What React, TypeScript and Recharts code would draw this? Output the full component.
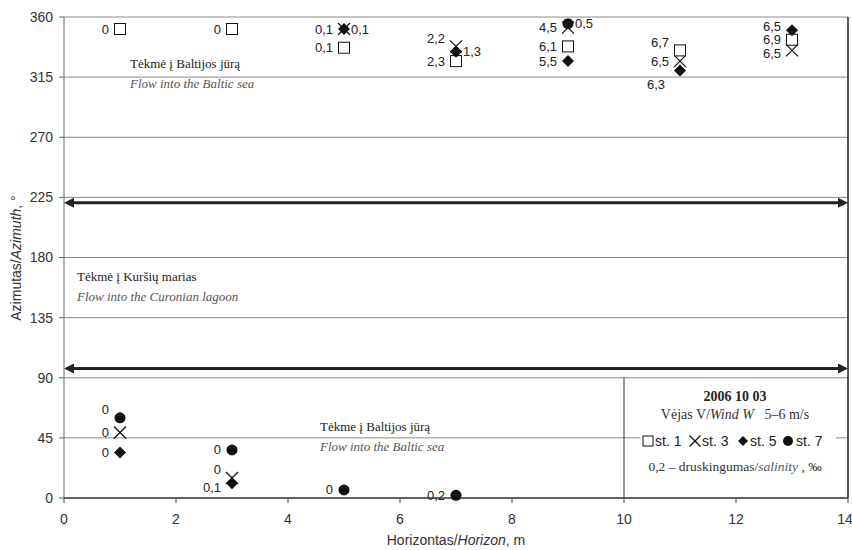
import React from 'react';
import { ScatterChart, Scatter, XAxis, YAxis, CartesianGrid, ReferenceLine } from 'recharts';

// horizon (m) / azimuth (deg) / salinity (‰) per station
const st1 = [
  { x: 1, y: 351, s: 0 },
  { x: 3, y: 351, s: 0 },
  { x: 5, y: 337, s: 0.1 },
  { x: 7, y: 327, s: 2.3 },
  { x: 9, y: 338, s: 6.1 },
  { x: 11, y: 335, s: 6.7 },
  { x: 13, y: 343, s: 6.9 },
];
const st3 = [
  { x: 1, y: 49, s: 0 },
  { x: 3, y: 15, s: 0 },
  { x: 5, y: 351, s: 0.1 },
  { x: 7, y: 338, s: 2.2 },
  { x: 9, y: 352, s: 4.5 },
  { x: 11, y: 327, s: 6.5 },
  { x: 13, y: 335, s: 6.5 },
];
const st5 = [
  { x: 1, y: 34, s: 0 },
  { x: 3, y: 11, s: 0.1 },
  { x: 5, y: 351, s: 0.1 },
  { x: 7, y: 334, s: 1.3 },
  { x: 9, y: 327, s: 5.5 },
  { x: 11, y: 320, s: 6.3 },
  { x: 13, y: 350, s: 6.5 },
];
const st7 = [
  { x: 1, y: 60, s: 0 },
  { x: 3, y: 36, s: 0 },
  { x: 5, y: 6, s: 0 },
  { x: 7, y: 2, s: 0.2 },
  { x: 9, y: 355, s: 0.5 },
];

const xTicks = [0, 2, 4, 6, 8, 10, 12, 14];
const yTicks = [0, 45, 90, 135, 180, 225, 270, 315, 360];
const flowBorders = [221, 97]; // azimuths separating the flow directions

// where the salinity number sits next to its marker (default: left)
const labelSide: Record<string, string> = {
  'st5-5': 'right',
  'st5-7': 'right',
  'st7-9': 'right',
  'st3-7': 'upLeft',
  'st7-1': 'upLeft',
  'st3-3': 'upLeft',
  'st1-11': 'upLeft',
  'st5-11': 'belowLeft',
  'st5-3': 'downLeft',
  'st5-13': 'nudgeUp',
  'st3-13': 'nudgeDown',
};

const W = 852;
const H = 550;
const PL = 64, PR = 848;

const INK = '#111';
const NUM_FONT = '"Liberation Sans", Arial, sans-serif';
const SERIF = '"Liberation Serif", "Times New Roman", serif';

const fmt = (v: number) => String(v).replace('.', ',');

const Marker = ({ kind, cx, cy, r = 5.5 }: { kind: string; cx: number; cy: number; r?: number }) => {
  if (kind === 'square')
    return <rect x={cx - r} y={cy - r} width={2 * r} height={2 * r} fill="#fff" stroke={INK} strokeWidth={1} />;
  if (kind === 'cross')
    return (
      <g stroke={INK} strokeWidth={1.2}>
        <line x1={cx - r - 0.5} y1={cy - r - 0.5} x2={cx + r + 0.5} y2={cy + r + 0.5} />
        <line x1={cx - r - 0.5} y1={cy + r + 0.5} x2={cx + r + 0.5} y2={cy - r - 0.5} />
      </g>
    );
  if (kind === 'diamond')
    return <polygon points={`${cx},${cy - r - 0.5} ${cx + r + 0.5},${cy} ${cx},${cy + r + 0.5} ${cx - r - 0.5},${cy}`} fill={INK} />;
  return <circle cx={cx} cy={cy} r={r} fill={INK} />;
};

const makeShape = (station: string, kind: string) => (props: any) => {
  const { cx, cy, payload } = props;
  const side = labelSide[`${station}-${payload.x}`] || 'left';
  let tx = cx - 11, ty = cy, anchor = 'end';
  if (side === 'right') { tx = cx + 7; anchor = 'start'; }
  if (side === 'upLeft') ty = cy - 8;
  if (side === 'downLeft') ty = cy + 4;
  if (side === 'nudgeUp') ty = cy - 4;
  if (side === 'nudgeDown') ty = cy + 3;
  if (side === 'belowLeft') { tx = cx - 15; ty = cy + 14; }
  return (
    <g>
      <Marker kind={kind} cx={cx} cy={cy} />
      <text x={tx} y={ty} textAnchor={anchor} dominantBaseline="central" fontSize={13} fontFamily={NUM_FONT} fill="#222">
        {fmt(payload.s)}
      </text>
    </g>
  );
};

const ArrowLine = (props: any) => {
  const { x1, y1, x2, y2 } = props;
  return (
    <g>
      <line x1={x1 + 6} y1={y1} x2={x2 - 6} y2={y2} stroke="#222" strokeWidth={3} />
      <polygon points={`${x1},${y1} ${x1 + 10},${y1 - 5} ${x1 + 10},${y1 + 5}`} fill="#222" />
      <polygon points={`${x2},${y2} ${x2 - 10},${y2 - 5} ${x2 - 10},${y2 + 5}`} fill="#222" />
    </g>
  );
};

const Note = ({ x, y, lt, en }: { x: number; y: number; lt: string; en: string }) => (
  <g fontFamily={SERIF} fontSize={13}>
    <text x={x} y={y} fill="#222">{lt}</text>
    <text x={x} y={y + 20} fill="#555" fontStyle="italic">{en}</text>
  </g>
);

const App: React.FC = () => {
  const lx = 735;
  return (
    <div style={{ position: 'absolute', left: 0, top: 0, width: W, height: H, background: '#fff' }}>
      <ScatterChart width={W} height={H} margin={{ top: 17, right: 4, bottom: 22, left: 10 }}>
        <CartesianGrid vertical={false} stroke="#8a8a8a" />
        <XAxis
          type="number"
          dataKey="x"
          domain={[0, 14]}
          ticks={xTicks}
          height={30}
          tickSize={5}
          tickMargin={11}
          axisLine={{ stroke: '#000' }}
          tickLine={{ stroke: '#444' }}
          tick={{ fontSize: 14, fontFamily: NUM_FONT, fill: '#333' }}
        />
        <YAxis
          type="number"
          dataKey="y"
          domain={[0, 360]}
          ticks={yTicks}
          width={54}
          tickSize={5}
          tickMargin={6}
          axisLine={{ stroke: '#666' }}
          tickLine={{ stroke: '#666' }}
          tick={{ fontSize: 14, fontFamily: NUM_FONT, fill: '#333' }}
        />
        <ReferenceLine x={14} stroke="#222" strokeWidth={1.5} />
        <ReferenceLine segment={[{ x: 10, y: 0 }, { x: 10, y: 90 }]} stroke="#333" />
        {flowBorders.map((b) => (
          <ReferenceLine key={b} y={b} shape={ArrowLine} />
        ))}
        <Scatter name="st. 1" data={st1} shape={makeShape('st1', 'square')} isAnimationActive={false} />
        <Scatter name="st. 3" data={st3} shape={makeShape('st3', 'cross')} isAnimationActive={false} />
        <Scatter name="st. 5" data={st5} shape={makeShape('st5', 'diamond')} isAnimationActive={false} />
        <Scatter name="st. 7" data={st7} shape={makeShape('st7', 'circle')} isAnimationActive={false} />
      </ScatterChart>
      <svg width={W} height={H} style={{ position: 'absolute', left: 0, top: 0, pointerEvents: 'none' }}>
        <Note x={130} y={68} lt="Tėkmė į Baltijos jūrą" en="Flow into the Baltic sea" />
        <Note x={77} y={281} lt="Tėkmė į Kuršių marias" en="Flow into the Curonian lagoon" />
        <Note x={320} y={431} lt="Tėkme į Baltijos jūrą" en="Flow into the Baltic sea" />

        <text x={16} y={258} transform="rotate(-90 16 258)" textAnchor="middle" dominantBaseline="central"
          fontSize={14} fontFamily={NUM_FONT} fill="#333">
          Azimutas/<tspan fontStyle="italic">Azimuth</tspan>, °
        </text>
        <text x={(PL + PR) / 2} y={545} textAnchor="middle" fontSize={14} fontFamily={NUM_FONT} fill="#333">
          Horizontas/<tspan fontStyle="italic">Horizon</tspan>, m
        </text>

        <g fontFamily={SERIF} textAnchor="middle" fill="#222">
          <text x={lx} y={401} fontWeight="bold" fontSize={14}>2006 10 03</text>
          <text x={lx} y={419} fill="#333" fontSize={14}>
            Vėjas V/<tspan fontStyle="italic">Wind W</tspan>{'\u00A0\u00A0\u00A05–6 m/s'}
          </text>
          <text x={lx} y={471} fill="#333" fontSize={13.5}>
            0,2 – druskingumas/<tspan fontStyle="italic" fill="#555">salinity</tspan> , ‰
          </text>
        </g>
        <rect x={640} y={430} width={196} height={22} fill="#fff" />
        <g fontFamily={NUM_FONT} fontSize={14} fill="#222">
          <Marker kind="square" cx={648} cy={441} r={5} />
          <text x={655} y={441} dominantBaseline="central">st. 1</text>
          <Marker kind="cross" cx={695} cy={441} r={5} />
          <text x={702} y={441} dominantBaseline="central">st. 3</text>
          <Marker kind="diamond" cx={743} cy={441} r={4.5} />
          <text x={750} y={441} dominantBaseline="central">st. 5</text>
          <Marker kind="circle" cx={788} cy={441} r={5} />
          <text x={796} y={441} dominantBaseline="central">st. 7</text>
        </g>
      </svg>
    </div>
  );
};

export default App;
